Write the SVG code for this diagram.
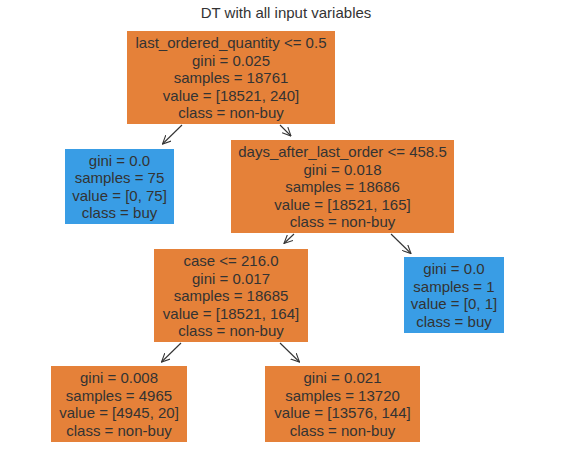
<svg xmlns="http://www.w3.org/2000/svg" width="572" height="465" viewBox="0 0 572 465">
<defs>
<style>
text{font-family:"Liberation Sans",Arial,sans-serif;font-size:15px;fill:#333;text-anchor:middle;dominant-baseline:central}
.o{fill:#e58139}
.b{fill:#399de5}
.c line{stroke:#333;stroke-width:1.1;marker-end:url(#ah)}
</style>
<marker id="ah" viewBox="0 0 10 10" refX="9.5" refY="5" markerWidth="9" markerHeight="9" markerUnits="userSpaceOnUse" orient="auto">
<path d="M0,0.5 L9.5,5 L0,9.5" fill="none" stroke="#333" stroke-width="1.2"/>
</marker>
</defs>
<rect width="572" height="465" fill="#fff"/>
<text x="286" y="12.5">DT with all input variables</text>
<g class="c" id="connectors">
<line x1="182" y1="125" x2="162.5" y2="144"/>
<line x1="280" y1="125" x2="291" y2="136"/>
<line x1="294" y1="234" x2="284" y2="243.5"/>
<line x1="391" y1="234" x2="411" y2="253.5"/>
<line x1="181" y1="343" x2="161.5" y2="362"/>
<line x1="280" y1="343" x2="299.5" y2="362"/>
</g>
<g id="n0">
<rect class="o" x="127" y="31" width="208" height="93"/>
<text x="231" y="42.5">last_ordered_quantity &lt;= 0.5</text>
<text x="231" y="60">gini = 0.025</text>
<text x="231" y="77.5">samples = 18761</text>
<text x="231" y="95">value = [18521, 240]</text>
<text x="231" y="112.5">class = non-buy</text>
</g>
<g id="n1">
<rect class="b" x="65" y="149" width="109" height="75"/>
<text x="119.5" y="160.25">gini = 0.0</text>
<text x="119.5" y="177.75">samples = 75</text>
<text x="119.5" y="195.25">value = [0, 75]</text>
<text x="119.5" y="212.75">class = buy</text>
</g>
<g id="n2">
<rect class="o" x="231" y="140" width="223" height="93"/>
<text x="342.5" y="151.5">days_after_last_order &lt;= 458.5</text>
<text x="342.5" y="169">gini = 0.018</text>
<text x="342.5" y="186.5">samples = 18686</text>
<text x="342.5" y="204">value = [18521, 165]</text>
<text x="342.5" y="221.5">class = non-buy</text>
</g>
<g id="n3">
<rect class="o" x="154" y="249" width="154" height="93"/>
<text x="231" y="260.5">case &lt;= 216.0</text>
<text x="231" y="278">gini = 0.017</text>
<text x="231" y="295.5">samples = 18685</text>
<text x="231" y="313">value = [18521, 164]</text>
<text x="231" y="330.5">class = non-buy</text>
</g>
<g id="n4">
<rect class="b" x="404" y="257" width="100" height="76"/>
<text x="454" y="268.75">gini = 0.0</text>
<text x="454" y="286.25">samples = 1</text>
<text x="454" y="303.75">value = [0, 1]</text>
<text x="454" y="321.25">class = buy</text>
</g>
<g id="n5">
<rect class="o" x="51" y="366" width="136" height="76"/>
<text x="119" y="377.75">gini = 0.008</text>
<text x="119" y="395.25">samples = 4965</text>
<text x="119" y="412.75">value = [4945, 20]</text>
<text x="119" y="430.25">class = non-buy</text>
</g>
<g id="n6">
<rect class="o" x="265" y="366" width="155" height="76"/>
<text x="342.5" y="377.75">gini = 0.021</text>
<text x="342.5" y="395.25">samples = 13720</text>
<text x="342.5" y="412.75">value = [13576, 144]</text>
<text x="342.5" y="430.25">class = non-buy</text>
</g>
</svg>
